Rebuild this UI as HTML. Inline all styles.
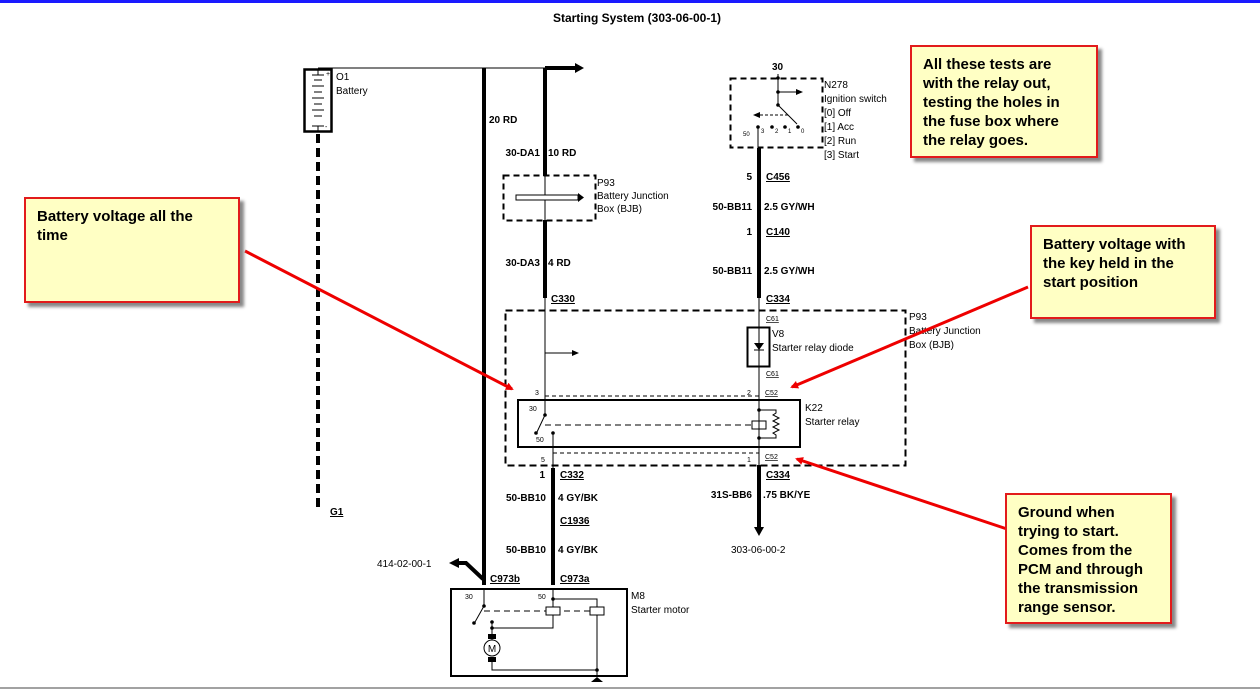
<!DOCTYPE html>
<html><head><style>
body{margin:0;width:1260px;height:692px;background:#fff;overflow:hidden;font-family:"Liberation Sans",sans-serif}
.c{position:absolute;background:#ffffc4;border:2px solid #e21b1b;box-shadow:4px 4px 3px #888;font-weight:bold;font-size:15px;line-height:19px;color:#000;padding:8px 11px;box-sizing:border-box;white-space:nowrap}
</style></head><body>
<svg width="1260" height="692" style="position:absolute;left:0;top:0" font-family="Liberation Sans, sans-serif">
<defs><marker id="ra" markerWidth="8" markerHeight="8" refX="6" refY="4" orient="auto" markerUnits="userSpaceOnUse" viewBox="0 0 8 8"><path d="M0,0 L8,4 L0,8z" fill="#e00"/></marker></defs>
<rect x="0" y="0" width="1260" height="3" fill="#1a1aff"/>
<text x="637" y="22" font-size="12" font-weight="bold" text-anchor="middle">Starting System (303-06-00-1)</text>
<line x1="318" y1="68" x2="545" y2="68" stroke="#000" stroke-width="1"/>
<path d="M545,68 H576" stroke="#000" stroke-width="4"/><path d="M575,63 L584,68 L575,73z"/>
<rect x="304.5" y="69.5" width="27" height="62" fill="none" stroke="#000" stroke-width="2.5"/>
<g stroke="#000" stroke-width="1">
<line x1="312" y1="75" x2="324" y2="75"/><line x1="318" y1="70" x2="318" y2="75"/>
<line x1="314" y1="80" x2="322" y2="80"/><line x1="312" y1="86" x2="324" y2="86"/><line x1="314" y1="92" x2="322" y2="92"/><line x1="312" y1="98" x2="324" y2="98"/><line x1="314" y1="104" x2="322" y2="104"/><line x1="312" y1="110" x2="324" y2="110"/><line x1="314" y1="116" x2="322" y2="116"/><line x1="312" y1="126" x2="324" y2="126"/><line x1="318" y1="126" x2="318" y2="131"/>
</g>
<text x="326" y="76" font-size="7">+</text><text x="325" y="129" font-size="7">-</text>
<text x="336" y="80" font-size="10">O1</text><text x="336" y="94" font-size="10">Battery</text>
<line x1="318" y1="134" x2="318" y2="512" stroke="#000" stroke-width="4" stroke-dasharray="9,5"/>
<text x="330" y="515" font-size="10" font-weight="bold" text-decoration="underline">G1</text>
<path d="M484,68 V585" stroke="#000" stroke-width="4"/>
<text x="489" y="123" font-size="10" font-weight="bold">20 RD</text>
<path d="M483,579 L466,563 H458" fill="none" stroke="#000" stroke-width="4"/><path d="M459,558 L449,563 L459,568z"/>
<text x="377" y="567" font-size="10">414-02-00-1</text>
<text x="490" y="582" font-size="10" font-weight="bold" text-decoration="underline">C973b</text>
<path d="M545,68 V176" stroke="#000" stroke-width="4"/>
<text x="540" y="156" font-size="10" font-weight="bold" text-anchor="end">30-DA1</text><text x="548" y="156" font-size="10" font-weight="bold">10 RD</text>
<rect x="503.5" y="175.5" width="92" height="45" fill="none" stroke="#000" stroke-width="2" stroke-dasharray="6,4"/>
<line x1="545" y1="176" x2="545" y2="220" stroke="#000"/>
<rect x="516" y="195" width="62" height="5" fill="#fff" stroke="#000"/><path d="M578,193 L584,197.5 L578,202z"/>
<text x="597" y="186" font-size="10">P93</text><text x="597" y="199" font-size="10">Battery Junction</text><text x="597" y="212" font-size="10">Box (BJB)</text>
<path d="M545,220 V298" stroke="#000" stroke-width="4"/>
<text x="540" y="266" font-size="10" font-weight="bold" text-anchor="end">30-DA3</text><text x="548" y="266" font-size="10" font-weight="bold">4 RD</text>
<text x="551" y="302" font-size="10" font-weight="bold" text-decoration="underline">C330</text>
<line x1="545" y1="298" x2="545" y2="400" stroke="#000"/>
<line x1="545" y1="353" x2="572" y2="353" stroke="#000"/><path d="M572,350 L579,353 L572,356z"/>
<rect x="505.5" y="310.5" width="400" height="155" fill="none" stroke="#000" stroke-width="2" stroke-dasharray="7,4"/>
<text x="909" y="320" font-size="10">P93</text><text x="909" y="334" font-size="10">Battery Junction</text><text x="909" y="348" font-size="10">Box (BJB)</text>
<line x1="545" y1="396" x2="759" y2="396" stroke="#000" stroke-dasharray="4,3"/>
<line x1="553" y1="453" x2="759" y2="453" stroke="#000" stroke-dasharray="4,3"/>
<text x="535" y="395" font-size="7">3</text><text x="747" y="395" font-size="7">2</text>
<text x="765" y="395" font-size="7" text-decoration="underline">C52</text>
<text x="541" y="462" font-size="7">5</text><text x="747" y="462" font-size="7">1</text><text x="765" y="459" font-size="7" text-decoration="underline">C52</text>
<rect x="518" y="400" width="282" height="47" fill="none" stroke="#000" stroke-width="2"/>
<text x="805" y="411" font-size="10">K22</text><text x="805" y="425" font-size="10">Starter relay</text>
<text x="529" y="411" font-size="7">30</text><text x="536" y="442" font-size="7">50</text>
<line x1="545" y1="400" x2="545" y2="415" stroke="#000"/><circle cx="545" cy="415" r="1.8"/>
<line x1="545" y1="415" x2="537" y2="432" stroke="#000"/><circle cx="536" cy="433" r="1.8"/>
<circle cx="553" cy="433" r="1.8"/><line x1="553" y1="433" x2="553" y2="468" stroke="#000"/>
<line x1="545" y1="425" x2="752" y2="425" stroke="#000" stroke-dasharray="6,4"/>
<rect x="752" y="421" width="14" height="8" fill="#fff" stroke="#000"/>
<line x1="759" y1="400" x2="759" y2="468" stroke="#000"/>
<circle cx="759" cy="410" r="1.8"/><circle cx="759" cy="438" r="1.8"/>
<path d="M759,410 H776 V413 l-3,2 6,3 -6,3 6,3 -6,3 6,3 -6,3 3,2 V438 H759" fill="none" stroke="#000"/>
<rect x="730.5" y="78.5" width="92" height="69" fill="none" stroke="#000" stroke-width="2" stroke-dasharray="6,4"/>
<text x="772" y="70" font-size="10" font-weight="bold">30</text>
<line x1="778" y1="74" x2="778" y2="105" stroke="#000"/><circle cx="778" cy="78" r="1.8"/><circle cx="778" cy="92" r="1.8"/><circle cx="778" cy="105" r="1.8"/>
<line x1="778" y1="92" x2="796" y2="92" stroke="#000"/><path d="M796,89 L803,92 L796,95z"/>
<line x1="778" y1="105" x2="797" y2="124" stroke="#000"/>
<line x1="760" y1="115" x2="788" y2="115" stroke="#000" stroke-dasharray="3,2"/><path d="M760,112 L753,115 L760,118z"/>
<circle cx="758" cy="127" r="1.8"/><circle cx="772" cy="127" r="1.8"/><circle cx="785" cy="127" r="1.8"/><circle cx="798" cy="127" r="1.8"/>
<text x="761" y="133" font-size="6">3</text><text x="775" y="133" font-size="6">2</text><text x="788" y="133" font-size="6">1</text><text x="801" y="133" font-size="6">0</text><text x="743" y="136" font-size="6">50</text>
<line x1="758" y1="127" x2="758" y2="148" stroke="#000"/>
<text x="824" y="88" font-size="10">N278</text><text x="824" y="102" font-size="10">Ignition switch</text><text x="824" y="116" font-size="10">[0] Off</text><text x="824" y="130" font-size="10">[1] Acc</text><text x="824" y="144" font-size="10">[2] Run</text><text x="824" y="158" font-size="10">[3] Start</text>
<path d="M759,148 V298" stroke="#000" stroke-width="4"/>
<text x="752" y="180" font-size="10" font-weight="bold" text-anchor="end">5</text><text x="766" y="180" font-size="10" font-weight="bold" text-decoration="underline">C456</text>
<text x="752" y="210" font-size="10" font-weight="bold" text-anchor="end">50-BB11</text><text x="764" y="210" font-size="10" font-weight="bold">2.5 GY/WH</text>
<text x="752" y="235" font-size="10" font-weight="bold" text-anchor="end">1</text><text x="766" y="235" font-size="10" font-weight="bold" text-decoration="underline">C140</text>
<text x="752" y="274" font-size="10" font-weight="bold" text-anchor="end">50-BB11</text><text x="764" y="274" font-size="10" font-weight="bold">2.5 GY/WH</text>
<text x="766" y="302" font-size="10" font-weight="bold" text-decoration="underline">C334</text>
<line x1="759" y1="298" x2="759" y2="400" stroke="#000"/>
<text x="766" y="321" font-size="7" text-decoration="underline">C61</text><text x="766" y="376" font-size="7" text-decoration="underline">C61</text>
<rect x="747.5" y="327.5" width="22" height="39" fill="#fff" stroke="#000" stroke-width="2"/>
<line x1="759" y1="328" x2="759" y2="366" stroke="#000"/><path d="M754,343 H764 L759,350z"/><line x1="754" y1="350" x2="764" y2="350" stroke="#000"/>
<text x="772" y="337" font-size="10">V8</text><text x="772" y="351" font-size="10">Starter relay diode</text>
<path d="M759,465 V528" stroke="#000" stroke-width="4"/><path d="M754,527 L759,536 L764,527z"/>
<text x="766" y="478" font-size="10" font-weight="bold" text-decoration="underline">C334</text>
<text x="752" y="498" font-size="10" font-weight="bold" text-anchor="end">31S-BB6</text><text x="763" y="498" font-size="10" font-weight="bold">.75 BK/YE</text>
<text x="731" y="553" font-size="10">303-06-00-2</text>
<path d="M553,468 V585" stroke="#000" stroke-width="4"/>
<text x="545" y="478" font-size="10" font-weight="bold" text-anchor="end">1</text><text x="560" y="478" font-size="10" font-weight="bold" text-decoration="underline">C332</text>
<text x="546" y="501" font-size="10" font-weight="bold" text-anchor="end">50-BB10</text><text x="558" y="501" font-size="10" font-weight="bold">4 GY/BK</text>
<text x="560" y="524" font-size="10" font-weight="bold" text-decoration="underline">C1936</text>
<text x="546" y="553" font-size="10" font-weight="bold" text-anchor="end">50-BB10</text><text x="558" y="553" font-size="10" font-weight="bold">4 GY/BK</text>
<text x="560" y="582" font-size="10" font-weight="bold" text-decoration="underline">C973a</text>
<rect x="451" y="589" width="176" height="87" fill="none" stroke="#000" stroke-width="2"/>
<text x="631" y="599" font-size="10">M8</text><text x="631" y="613" font-size="10">Starter motor</text>
<text x="465" y="599" font-size="7">30</text><text x="538" y="599" font-size="7">50</text>
<line x1="484" y1="589" x2="484" y2="606" stroke="#000"/><circle cx="484" cy="606" r="1.8"/><line x1="484" y1="606" x2="475" y2="622" stroke="#000"/><circle cx="474" cy="623" r="1.8"/>
<line x1="484" y1="611" x2="597" y2="611" stroke="#000" stroke-dasharray="6,4"/>
<line x1="553" y1="589" x2="553" y2="628" stroke="#000"/><circle cx="553" cy="599" r="1.8"/>
<path d="M553,599 H597 V675" fill="none" stroke="#000"/>
<rect x="546" y="607" width="14" height="8" fill="#fff" stroke="#000"/><rect x="590" y="607" width="14" height="8" fill="#fff" stroke="#000"/>
<path d="M553,615 V628 H492" fill="none" stroke="#000"/>
<circle cx="492" cy="622" r="1.8"/><circle cx="492" cy="628" r="1.8"/>
<line x1="492" y1="622" x2="492" y2="640" stroke="#000"/>
<rect x="488" y="634" width="8" height="5"/><circle cx="492" cy="648" r="8" fill="#fff" stroke="#000"/><text x="492" y="652" font-size="10" text-anchor="middle">M</text>
<rect x="488" y="657" width="8" height="5"/>
<path d="M492,662 V670 H597" fill="none" stroke="#000"/><circle cx="597" cy="670" r="1.8"/>
<path d="M591,682 H603 L597,677z"/>
<line x1="0" y1="688" x2="1260" y2="688" stroke="#444" stroke-width="1"/>
<g stroke="#e00" stroke-width="3" marker-end="url(#ra)">
<line x1="245" y1="251" x2="512" y2="389"/>
<line x1="1028" y1="287" x2="792" y2="387"/>
<line x1="1010" y1="530" x2="797" y2="459"/>
</g>
</svg>
<div class="c" style="left:24px;top:197px;width:216px;height:106px">Battery voltage all the<br>time</div>
<div class="c" style="left:910px;top:45px;width:188px;height:113px">All these tests are<br>with the relay out,<br>testing the holes in<br>the fuse box where<br>the relay goes.</div>
<div class="c" style="left:1030px;top:225px;width:186px;height:94px">Battery voltage with<br>the key held in the<br>start position</div>
<div class="c" style="left:1005px;top:493px;width:167px;height:131px">Ground when<br>trying to start.<br>Comes from the<br>PCM and through<br>the transmission<br>range sensor.</div>
</body></html>
